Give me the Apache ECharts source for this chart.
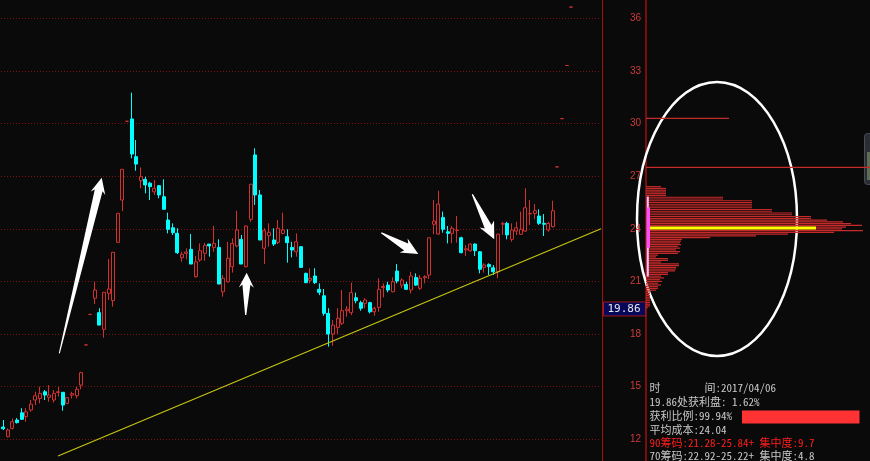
<!DOCTYPE html>
<html><head><meta charset="utf-8">
<script src="https://cdn.jsdelivr.net/npm/echarts@6/dist/echarts.min.js"></script>
<style>html,body{margin:0;padding:0;background:#0a0a0a;}#c{width:870px;height:461px;}</style>
</head><body><div id="c"></div>
<script>
// ---- data ----
// candles: [open, close, low, high]
const candles = [
[12.70,12.60,12.53,13.10],[12.15,12.53,12.11,12.62],[12.62,13.00,12.57,13.19],[13.10,12.95,12.90,13.21],
[13.51,13.14,13.10,13.77],[13.29,13.57,13.00,13.77],[13.67,14.00,13.57,14.24],[14.24,14.48,13.95,14.71],
[14.33,14.62,14.05,15.00],[14.71,14.52,14.24,14.81],[14.39,14.52,14.14,15.09],[14.24,14.62,14.09,14.81],
[14.67,14.71,14.43,15.00],[14.68,13.95,13.63,14.68],[14.05,14.37,14.00,14.40],[14.52,14.60,14.33,14.71],
[14.48,14.85,14.33,15.00],[15.09,15.80,14.85,15.85],[17.38,17.38,17.38,17.38],[19.12,19.12,19.12,19.12],
[20.04,20.51,19.71,20.98],[19.22,18.51,18.51,19.47],[18.27,20.38,17.79,20.38],[20.32,20.57,19.94,22.28],
[19.90,22.66,19.56,22.66],[23.23,24.88,23.20,24.88],[25.64,27.39,25.01,27.39],[30.13,30.13,30.13,30.13],
[30.26,28.26,28.02,31.76],[28.11,27.69,27.31,29.06],[26.74,26.97,26.31,27.50],[26.82,26.50,26.02,26.97],
[26.60,26.40,25.64,26.68],[26.11,26.31,25.93,26.78],[26.46,25.93,25.74,26.50],[25.83,25.11,25.11,26.82],
[24.50,23.97,23.74,24.92],[24.06,23.78,23.65,24.31],[23.74,22.64,22.56,24.03],[22.35,22.55,22.12,22.69],
[22.60,22.68,22.26,22.89],[22.83,21.99,21.99,23.70],[21.27,22.12,21.21,22.45],[22.22,22.75,22.12,23.17],
[22.60,23.06,22.18,23.20],[23.13,23.02,22.41,23.13],[22.94,23.17,22.69,24.16],[22.94,20.85,20.85,23.40],
[20.41,21.18,20.13,21.36],[20.98,22.32,20.93,23.26],[21.84,23.17,21.50,23.46],[23.02,23.93,22.94,25.03],
[23.40,21.99,21.99,23.65],[21.84,24.16,21.80,24.20],[24.54,26.54,24.40,26.54],[28.21,25.93,25.36,28.59],
[25.93,23.36,23.36,26.21],[22.89,23.89,21.99,24.03],[23.61,23.80,22.98,24.31],[23.36,23.13,23.02,24.03],
[23.23,24.03,23.13,24.50],[23.74,23.93,23.69,24.92],[23.55,23.21,22.07,23.97],[22.94,22.79,22.37,23.26],
[22.69,23.26,22.41,23.74],[22.98,21.80,21.80,23.00],[21.46,20.93,20.90,21.50],[21.06,21.18,20.89,21.75],
[21.31,20.93,20.85,21.75],[20.55,20.38,20.22,20.89],[20.18,19.18,19.04,20.57],[19.18,18.00,17.28,19.47],
[18.00,18.51,17.33,18.80],[18.38,18.90,18.00,19.47],[18.61,19.33,18.51,20.51],[19.33,19.42,18.99,19.60],
[19.22,20.36,19.08,20.93],[20.07,19.90,19.75,20.36],[19.79,19.47,19.33,19.90],[19.75,19.94,19.47,20.04],
[19.79,19.27,19.18,19.84],[19.27,19.47,19.04,19.56],[19.52,20.55,19.27,21.18],[20.65,20.71,20.09,20.89],
[20.79,20.51,20.38,20.98],[20.41,20.98,20.38,21.23],[21.59,21.02,20.89,21.99],[20.79,21.08,20.61,21.18],
[20.83,20.55,20.51,20.98],[20.51,21.31,20.32,21.55],[21.23,20.79,20.74,21.46],[20.61,21.18,20.51,21.36],
[21.21,21.27,20.89,21.36],[21.36,23.49,21.13,23.49],[24.26,24.44,23.69,25.64],[23.70,25.41,23.65,26.17],
[24.65,23.97,23.78,24.98],[23.83,23.74,23.17,24.16],[23.74,24.03,23.17,24.16],[23.90,23.93,23.21,24.73],
[23.49,22.64,22.60,23.55],[22.80,22.86,22.45,23.07],[22.75,23.13,22.69,23.17],[23.13,22.75,22.45,23.17],
[22.69,21.69,21.46,22.73],[21.80,21.94,21.50,22.03],[21.97,21.84,21.37,22.03],[21.78,21.55,21.37,21.93],
[21.55,23.70,21.18,23.70],[24.26,24.31,23.65,24.40],[24.31,23.65,23.40,24.40],[23.40,23.93,23.26,24.31],
[23.87,24.06,23.65,24.40],[23.69,23.97,23.65,24.98],[23.87,25.20,23.83,26.31],[24.85,24.88,24.22,25.64],
[24.88,25.03,24.54,25.41],[24.73,24.31,24.22,25.11],[24.31,24.26,23.59,24.84],[23.93,24.31,23.83,24.40],
[24.12,25.03,24.08,25.60],[27.53,27.53,27.53,27.53],[30.28,30.28,30.28,30.28],[33.31,33.31,33.31,33.31],
[36.64,36.64,36.64,36.64]
];
const slotCount = 131;                       // trading-day slots on the axis (last ones empty)
const days = Array.from({length: slotCount}, (_, i) => String(i + 1));
const priceTicks = [12, 15, 18, 21, 24, 27, 30, 33, 36];
// support trend line: [day index, price]
const trendLine = [[11.95, 11.05], [130.5, 24.0]];
// annotation arrows: [tailDay, tailPrice, tipDay, tipPrice]
const arrows = [
  [12.23, 16.90, 21.49, 26.91],
  [52.93, 19.09, 53.14, 21.50],
  [82.53, 23.78, 90.61, 22.56],
  [102.40, 25.97, 107.20, 23.40]
];
// chip distribution (cost distribution): price levels and amounts
const chipPrice = [30.3,27.5,26.4,26.3,26.2,26.1,26.0,25.9,25.8,25.7,25.6,25.5,25.4,25.3,25.2,25.1,25.0,24.9,24.8,24.7,24.6,
  24.5,24.4,24.3,24.2,24.1,24.0,23.9,23.8,23.7,23.6,23.5,23.4,23.3,23.2,23.1,23.0,22.9,22.8,22.7,22.6,22.5,22.4,22.3,22.2,22.1,
  22.0,21.9,21.8,21.7,21.6,21.5,21.4,21.3,21.2,21.1,21.0,20.9,20.8,20.7,20.6,20.5,20.4,20.3,20.2,20.1,20.0,19.9,19.8,19.7,19.6,19.5];
const chipVol = [83,226,15,20,20,20,20,20,77,77,106,106,106,106,106,126,126,146,146,165,165,
  181,197,205,216,200,196,217,188,142,110,64,36,35,34,35,32,34,30,34,32,12,10,22,22,15,
  33,33,30,30,29,22,22,15,18,14,16,12,15,12,12,10,4,4,4,4,4,4,4,4,4,2];
const avgCost = 24.04, avgCostLen = 170;
const currentPrice = 19.86;
const chip90 = [21.28, 25.84], conc90 = 9.7;
const chip70 = [22.92, 25.22], conc70 = 4.8;
const dateStr = '2017/04/06', profitAt = '1.62%', profitRatio = '99.94%';

// ---- chart ----
const chart = echarts.init(document.getElementById('c'), null, {renderer: 'canvas'});
const RED = '#d43030', CYAN = '#00ffff', GRID = '#7e1212', AXIS = '#a01010';

chart.setOption({
  animation: false,
  backgroundColor: '#0a0a0a',
  grid: [
    {left: 1, top: 18.3, width: 600, height: 421, outerBoundsMode: 'none'},
    {left: 646, top: 18.3, width: 224, height: 421, outerBoundsMode: 'none'}
  ],
  xAxis: [
    {type: 'category', gridIndex: 0, data: days, boundaryGap: true, show: false},
    {type: 'value', gridIndex: 0, min: -0.5, max: slotCount - 0.5, show: false, splitLine: {show: false}},
    {type: 'value', gridIndex: 1, min: 0, max: 224, show: false, splitLine: {show: false}}
  ],
  yAxis: [
    {type: 'value', gridIndex: 0, min: priceTicks[0], max: priceTicks[priceTicks.length - 1], interval: 3,
     position: 'right', axisLine: {show: false}, axisTick: {show: false}, axisLabel: {show: false},
     splitLine: {show: true, lineStyle: {color: GRID, type: [1, 2], width: 1}}},
    {type: 'value', gridIndex: 1, min: priceTicks[0], max: priceTicks[priceTicks.length - 1], interval: 3,
     position: 'left', axisLine: {show: false}, axisTick: {show: false}, splitLine: {show: false},
     axisLabel: {show: true, color: '#cc3b3b', fontSize: 10, margin: 5, fontFamily: 'Liberation Sans'}}
  ],
  series: [
    {type: 'candlestick', xAxisIndex: 0, yAxisIndex: 0, data: candles, barWidth: 3.5, clip: false, silent: true,
     itemStyle: {color: '#0a0a0a', color0: CYAN, borderColor: RED, borderColor0: CYAN, borderWidth: 1}},
    {type: 'line', xAxisIndex: 1, yAxisIndex: 0, data: trendLine, symbol: 'none', clip: false, silent: true,
     lineStyle: {color: '#c4c412', width: 1.2}},
    {type: 'custom', xAxisIndex: 2, yAxisIndex: 1, silent: true, clip: false,
     data: chipPrice.map((p, i) => [chipVol[i], p]),
     renderItem: (params, api) => {
       const a = api.coord([0, api.value(1)]), b = api.coord([api.value(0), api.value(1)]);
       return {type: 'rect', shape: {x: a[0], y: a[1] - 0.6, width: b[0] - a[0], height: 1.2},
               style: {fill: '#c62b2b'}};
     }},
    {type: 'custom', xAxisIndex: 2, yAxisIndex: 1, silent: true, clip: false,
     data: [[avgCostLen, avgCost]],
     renderItem: (params, api) => {
       const a = api.coord([3, api.value(1)]), b = api.coord([api.value(0), api.value(1)]);
       return {type: 'rect', shape: {x: a[0], y: a[1] - 1.5, width: b[0] - a[0], height: 3},
               style: {fill: '#ffff00'}};
     }},
    {type: 'custom', xAxisIndex: 2, yAxisIndex: 1, silent: true, clip: false,
     data: [[chip90[0], chip90[1], 0], [chip70[0], chip70[1], 1]],
     renderItem: (params, api) => {
       const lo = api.coord([0, api.value(0)]), hi = api.coord([0, api.value(1)]);
       const wide = api.value(2) === 1;
       return {type: 'rect', shape: {x: lo[0] + 0.8, y: hi[1], width: wide ? 3.2 : 2, height: lo[1] - hi[1]},
               style: {fill: wide ? '#ff4cff' : '#ffc0ff'}};
     }}
  ]
});

// ---- annotations ----
function arrowPoints(t, h, headLen, headHalf, shaftHalf, tailHalf) {
  const dx = h[0] - t[0], dy = h[1] - t[1], L = Math.hypot(dx, dy);
  const ux = dx / L, uy = dy / L, nx = -uy, ny = ux;
  const bx = h[0] - ux * headLen, by = h[1] - uy * headLen;
  const sx = h[0] - ux * (headLen - 3), sy = h[1] - uy * (headLen - 3);
  return [[t[0] + nx * tailHalf, t[1] + ny * tailHalf], [sx + nx * shaftHalf, sy + ny * shaftHalf],
          [bx + nx * headHalf, by + ny * headHalf], [h[0], h[1]], [bx - nx * headHalf, by - ny * headHalf],
          [sx - nx * shaftHalf, sy - ny * shaftHalf], [t[0] - nx * tailHalf, t[1] - ny * tailHalf]];
}
const toPx = (d, p) => chart.convertToPixel({xAxisIndex: 1, yAxisIndex: 0}, [d, p]);
const toChip = (v, p) => chart.convertToPixel({xAxisIndex: 2, yAxisIndex: 1}, [v, p]);
const g = [];
const arrowSize = [[16, 7.5, 4, 0.5], [15, 7.5, 4, 0.6], [17, 8, 4, 0.6], [17, 8, 3.8, 0.6]];
arrows.forEach((a, i) => {
  const t = toPx(a[0], a[1]), h = toPx(a[2], a[3]), s = arrowSize[i];
  g.push({type: 'polygon', shape: {points: arrowPoints(t, h, s[0], s[1], s[2], s[3])}, style: {fill: '#ffffff'}, silent: true});
});
// separators
g.push({type: 'line', shape: {x1: 602.5, y1: 0, x2: 602.5, y2: 461}, style: {stroke: AXIS, lineWidth: 1}});
g.push({type: 'line', shape: {x1: 646, y1: 0, x2: 646, y2: 461}, style: {stroke: AXIS, lineWidth: 1.5}});
// current price box
const cp = toChip(0, currentPrice);
g.push({type: 'rect', shape: {x: 603.5, y: cp[1] + 0.5, width: 42, height: 14},
        style: {fill: '#08085a', stroke: '#a01818', lineWidth: 1}});
g.push({type: 'text', style: {text: currentPrice.toFixed(2), x: 624, y: cp[1] + 7.5, fill: '#e6e6e6',
        font: '11px "DejaVu Sans Mono", monospace', align: 'center', verticalAlign: 'middle'}});
// ellipse highlight around the chip peak
const eTop = toChip(70, 32.37), eBot = toChip(70, 16.75);
g.push({type: 'ellipse', shape: {cx: 717, cy: (eTop[1] + eBot[1]) / 2, rx: 80, ry: (eBot[1] - eTop[1]) / 2},
        style: {fill: 'none', stroke: '#ffffff', lineWidth: 2.5}});
// right-edge widget
g.push({type: 'rect', shape: {x: 864.5, y: 133.5, width: 9, height: 51, r: 3}, style: {fill: '#2a2d33', stroke: '#474c55'}});
g.push({type: 'rect', shape: {x: 867, y: 152, width: 3, height: 28}, style: {fill: '#5d6e52'}});
// info text
const F = '11px "Noto Sans Mono CJK SC", "Noto Sans CJK SC", monospace';
const lines = [
  ['时        间:' + dateStr, '#c8c8c8'],
  [currentPrice.toFixed(2) + '处获利盘: ' + profitAt, '#c8c8c8'],
  ['获利比例:' + profitRatio, '#c8c8c8'],
  ['平均成本:' + avgCost.toFixed(2), '#c8c8c8'],
  ['90筹码:' + chip90[0].toFixed(2) + '-' + chip90[1].toFixed(2) + '+ 集中度:' + conc90, '#ff1e1e'],
  ['70筹码:' + chip70[0].toFixed(2) + '-' + chip70[1].toFixed(2) + '+ 集中度:' + conc70, '#c8c8c8']
];
const lineY = [387.5, 401.7, 416, 430, 442.8, 456.3];
lines.forEach((l, i) => g.push({type: 'text', style: {text: l[0], x: 649.5, y: lineY[i], fill: l[1], font: F, verticalAlign: 'middle'}}));
g.push({type: 'rect', shape: {x: 742, y: 410.5, width: 117.5, height: 13}, style: {fill: '#ff3333'}});
chart.setOption({graphic: g});
</script></body></html>
